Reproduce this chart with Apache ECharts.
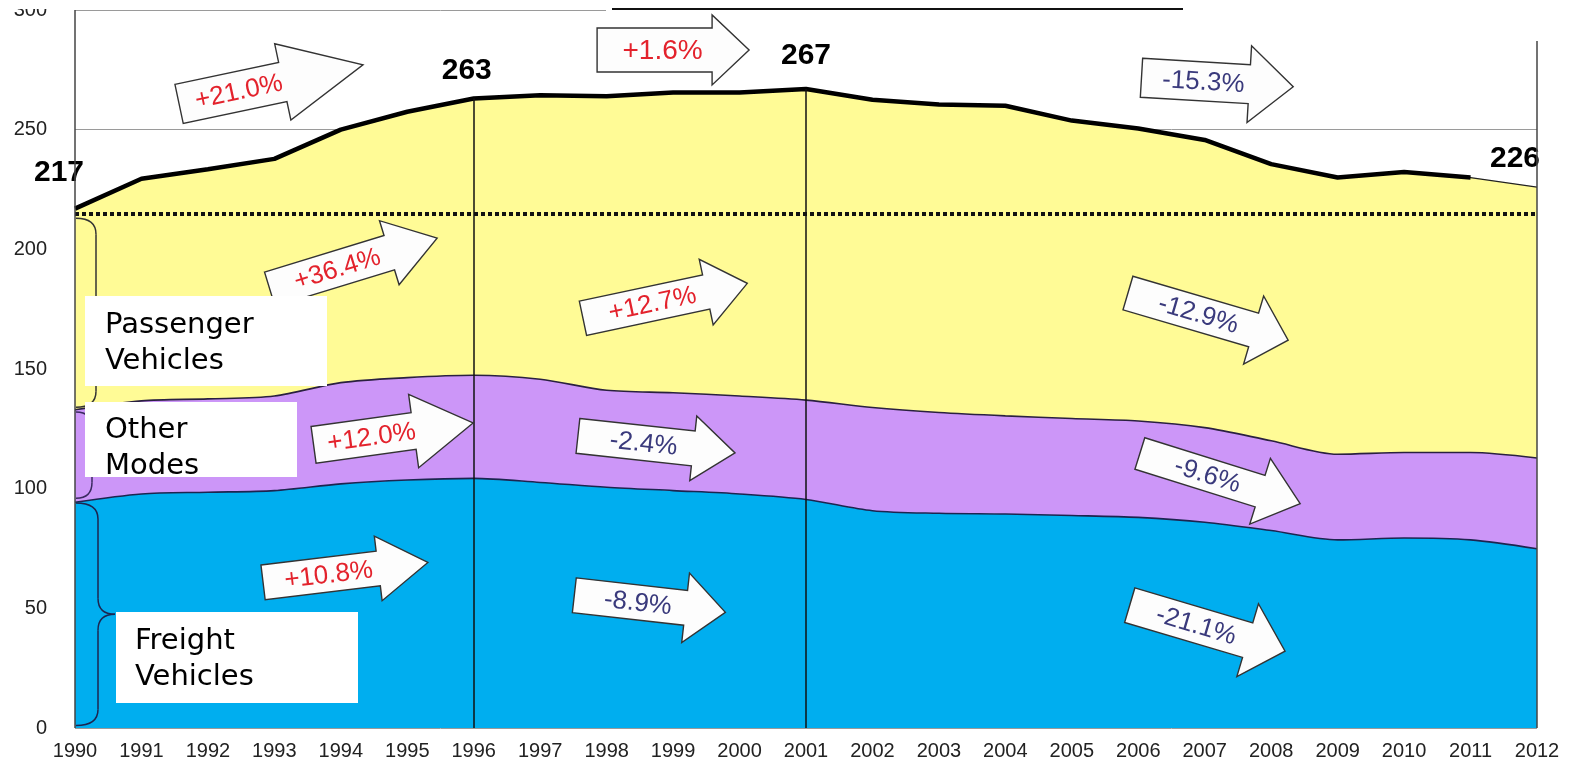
<!DOCTYPE html>
<html>
<head>
<meta charset="utf-8">
<script src="https://cdn.jsdelivr.net/npm/echarts@6/dist/echarts.min.js"></script>
<style>
  html, body { margin: 0; padding: 0; background: #fff; }
  #main { width: 1574px; height: 767px; }
</style>
</head>
<body>
<div id="main"></div>
<script>
const years = ['1990', '1991', '1992', '1993', '1994', '1995', '1996', '1997', '1998', '1999', '2000', '2001',
  '2002', '2003', '2004', '2005', '2006', '2007', '2008', '2009', '2010', '2011', '2012'];
const freight = [94.3, 97.8, 98.5, 99.2, 102.0, 103.6, 104.3, 102.6, 100.6, 99.2, 97.8, 95.5,
  90.8, 89.7, 89.4, 88.8, 88.0, 86.0, 82.5, 78.6, 79.4, 78.6, 74.9];
const otherModes = [38.7, 38.9, 39.0, 39.5, 42.3, 42.8, 43.1, 43.1, 40.5, 40.9, 40.9, 41.5,
  43.1, 42.1, 41.0, 40.5, 40.3, 39.5, 37.5, 35.8, 35.7, 36.5, 37.9];
const passenger = [84.0, 92.8, 96.0, 99.1, 105.7, 111.1, 115.6, 118.7, 122.9, 125.4, 126.8, 130.0,
  128.6, 128.7, 129.6, 124.5, 122.2, 120.2, 115.6, 115.6, 117.2, 114.9, 113.2];
const labeledYears = ['1990', '1996', '2001', '2012'];
const splitYears = ['1996', '2001'];
const referenceLevel = 215;
const changeLabels = ['+21.0%', '+1.6%', '-15.3%', '+36.4%', '+12.7%', '-12.9%',
  '+12.0%', '-2.4%', '-9.6%', '+10.8%', '-8.9%', '-21.1%'];
const groupNames = ['Passenger\nVehicles', 'Other\nModes', 'Freight\nVehicles'];

// layout of the annotation arrows: centre (year, value), angle, body length, head length, head height, body height
const arrowLayout = [
  [1992.95, 268.9, 12, 106, 82, 78, 40],
  [1999.0, 283.3, 0, 115, 37, 70, 44],
  [2007.19, 269.8, -3.4, 108, 44, 77, 39],
  [1994.19, 194.0, 17, 125, 50, 67, 36],
  [1998.88, 178.5, 12, 126, 42, 67, 35],
  [2007.05, 171.9, -16.4, 131, 36, 71, 35],
  [1994.79, 122.9, 7.8, 101, 60, 74, 37],
  [1998.75, 118.5, -6.2, 116, 42, 65, 35],
  [2007.23, 104.2, -17.4, 126, 42, 69, 33],
  [1994.07, 65.0, 6.9, 116, 50, 65, 35],
  [1998.65, 51.9, -6.4, 112, 40, 70, 35],
  [2007.04, 41.7, -16.5, 123, 39, 76, 36]
];
const labelOffsets = [[-16, -36], [-7, -28], [0, -33], [-22, -28]];

const RED = '#E3222C';
const NAVY = '#3A3A7C';

const total = years.map((y, i) => +(freight[i] + otherModes[i] + passenger[i]).toFixed(1));
const totalLine = total.map((v, i) => (i < total.length - 1 ? v : '-'));

const chart = echarts.init(document.getElementById('main'));

const option = {
  animation: false,
  grid: { left: 75, right: 37, top: 9, bottom: 39 },
  xAxis: {
    type: 'category',
    data: years,
    boundaryGap: false,
    axisLine: { show: false },
    axisTick: { show: false },
    axisLabel: { interval: 0, margin: 13, fontSize: 20, fontFamily: 'Liberation Sans', color: '#222' }
  },
  yAxis: {
    type: 'value',
    min: 0,
    max: 300,
    interval: 50,
    axisLine: { show: false },
    axisTick: { show: false },
    axisLabel: { margin: 28, fontSize: 20, fontFamily: 'Liberation Sans', color: '#222' },
    splitLine: { lineStyle: { color: '#9a9a9a', width: 1 } }
  },
  series: [
    {
      name: 'Freight Vehicles', type: 'line', stack: 'all', data: freight,
      symbol: 'none', smooth: 0.3,
      lineStyle: { color: '#1c2550', width: 1.6 },
      areaStyle: { color: '#00AEEF', opacity: 1 }
    },
    {
      name: 'Other Modes', type: 'line', stack: 'all', data: otherModes,
      symbol: 'none', smooth: 0.3,
      lineStyle: { color: '#2a2040', width: 1.6 },
      areaStyle: { color: '#CC96F8', opacity: 1 }
    },
    {
      name: 'Passenger Vehicles', type: 'line', stack: 'all', data: passenger,
      symbol: 'none',
      lineStyle: { color: '#222', width: 1.2 },
      areaStyle: { color: '#FFFB96', opacity: 1 }
    },
    {
      name: 'Total', type: 'line', data: totalLine,
      symbol: 'none', z: 4,
      lineStyle: { color: '#000', width: 4.5 },
      markLine: {
        silent: true,
        symbol: 'none',
        label: { show: false },
        data: [
          ...splitYears.map(y => [
            { coord: [y, 0], lineStyle: { color: '#111', width: 1.5, type: 'solid' } },
            { coord: [y, total[years.indexOf(y)]] }
          ]),
          { yAxis: referenceLevel, lineStyle: { color: '#111', width: 4, type: [4, 3] } }
        ]
      }
    },
    {
      name: 'Labels', type: 'scatter', symbolSize: 0, z: 6,
      itemStyle: { opacity: 1 },
      data: labeledYears.map((y, k) => ({
        value: [y, total[years.indexOf(y)]],
        label: { offset: labelOffsets[k] }
      })),
      label: {
        show: true,
        position: 'inside',
        formatter: p => Math.round(p.value[1]),
        fontSize: 30,
        fontWeight: 'bold',
        fontFamily: 'Liberation Sans',
        color: '#000',
        opacity: 1,
        textBorderWidth: 0
      }
    }
  ]
};

chart.setOption(option);

function px(yearF, v) {
  const p0 = chart.convertToPixel({ gridIndex: 0 }, [0, v]);
  const p1 = chart.convertToPixel({ gridIndex: 0 }, [years.length - 1, v]);
  return [p0[0] + (yearF - 1990) / (years.length - 1) * (p1[0] - p0[0]), p0[1]];
}

const graphics = [];

// arrows
arrowLayout.forEach((a, i) => {
  const [yr, val, ang, bodyLen, headLen, headH, bodyH] = a;
  const c = px(yr, val);
  const L = bodyLen + headLen;
  const x0 = -L / 2;
  const pts = [
    [x0, -bodyH / 2], [x0 + bodyLen, -bodyH / 2], [x0 + bodyLen, -headH / 2],
    [x0 + L, 0], [x0 + bodyLen, headH / 2], [x0 + bodyLen, bodyH / 2], [x0, bodyH / 2]
  ];
  const txt = changeLabels[i];
  graphics.push({
    type: 'group',
    x: c[0], y: c[1],
    rotation: ang * Math.PI / 180,
    z: 100,
    children: [
      { type: 'polygon', z: 100, shape: { points: pts },
        style: { fill: '#fdfdfd', stroke: '#333', lineWidth: 1.4 } },
      { type: 'text', z: 101, x: x0 + bodyLen / 2 + 8, y: 1,
        style: { text: txt, font: (i === 1 ? '28px' : '26px') + ' "Liberation Sans"',
          fill: txt[0] === '+' ? RED : NAVY,
          align: 'center', verticalAlign: 'middle', textAlign: 'center', textVerticalAlign: 'middle' } }
    ]
  });
});

// braces beside the axis
function brace(vTop, vBot, w, t, color) {
  const top = px(1990, vTop), bot = px(1990, vBot);
  const x0 = top[0] + 1, yt = top[1], yb = bot[1], ym = (yt + yb) / 2, r = 16;
  const st = { stroke: color, lineWidth: 1.5, fill: null };
  return [
    { type: 'bezierCurve', z: 90, shape: { x1: x0, y1: yt, cpx1: x0 + w, cpy1: yt, x2: x0 + w, y2: yt + r }, style: st },
    { type: 'line', z: 90, shape: { x1: x0 + w, y1: yt + r, x2: x0 + w, y2: ym - r }, style: st },
    { type: 'bezierCurve', z: 90, shape: { x1: x0 + w, y1: ym - r, cpx1: x0 + w, cpy1: ym, x2: x0 + w + t, y2: ym }, style: st },
    { type: 'bezierCurve', z: 90, shape: { x1: x0 + w + t, y1: ym, cpx1: x0 + w, cpy1: ym, x2: x0 + w, y2: ym + r }, style: st },
    { type: 'line', z: 90, shape: { x1: x0 + w, y1: ym + r, x2: x0 + w, y2: yb - r }, style: st },
    { type: 'bezierCurve', z: 90, shape: { x1: x0 + w, y1: yb - r, cpx1: x0 + w, cpy1: yb, x2: x0, y2: yb }, style: st }
  ];
}
graphics.push(...brace(213, 134, 20, 10, '#333'));
graphics.push(...brace(132, 96, 16, 8, '#3a2a60'));
graphics.push(...brace(94, 1, 22, 17, '#1c2550'));

// name boxes
const boxes = [
  { x: 85, y: 296, w: 242, h: 90, tx: 105, ty: 343 },
  { x: 85, y: 402, w: 212, h: 75, tx: 105, ty: 448 },
  { x: 116, y: 612, w: 242, h: 91, tx: 135, ty: 659 }
];
boxes.forEach((b, i) => {
  graphics.push({ type: 'rect', z: 110, shape: { x: b.x, y: b.y, width: b.w, height: b.h }, style: { fill: '#fff' } });
  graphics.push({ type: 'text', z: 111, x: b.tx, y: b.ty,
    style: { text: groupNames[i], font: '29px "DejaVu Sans"', lineHeight: 36, fill: '#000',
      align: 'left', verticalAlign: 'middle', textAlign: 'left', textVerticalAlign: 'middle' } });
});

// frame pieces
const tl = px(1990, 300), bl = px(1990, 0), tr = px(2012, 300), br = px(2012, 0);
graphics.push({ type: 'line', z: 95, shape: { x1: tl[0], y1: tl[1], x2: bl[0], y2: bl[1] }, style: { stroke: '#444', lineWidth: 1.5 } });
graphics.push({ type: 'line', z: 95, shape: { x1: tr[0], y1: tr[1] + 31, x2: br[0], y2: br[1] }, style: { stroke: '#444', lineWidth: 1.5 } });
graphics.push({ type: 'line', z: 95, shape: { x1: 606, y1: tl[1], x2: 1574, y2: tl[1] }, style: { stroke: '#fff', lineWidth: 3 } });
graphics.push({ type: 'line', z: 96, shape: { x1: 612, y1: tl[1] - 1, x2: 1183, y2: tl[1] - 1 }, style: { stroke: '#111', lineWidth: 2 } });
graphics.push({ type: 'rect', z: 120, shape: { x: 0, y: 0, width: 70, height: tl[1] - 1 }, style: { fill: '#fff' } });

chart.setOption({ graphic: graphics });
</script>
</body>
</html>
